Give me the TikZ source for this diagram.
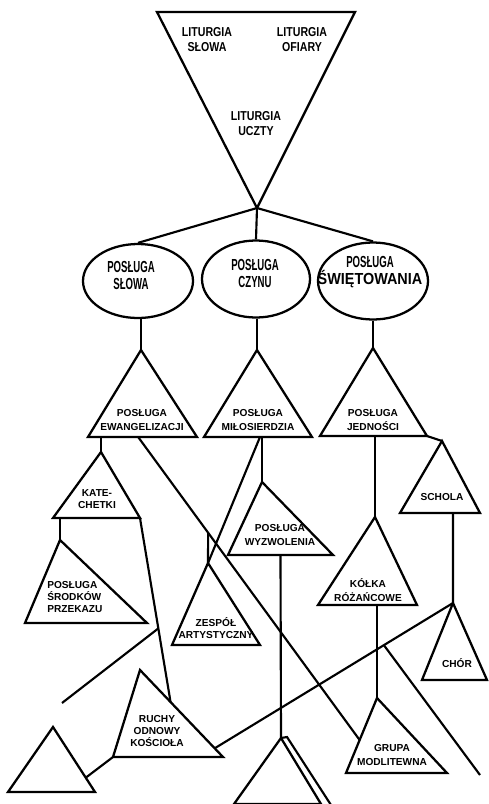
\documentclass[tikz,border=0pt]{standalone}
\usepackage{fontspec}
\setmainfont{Liberation Sans}
\newfontfamily\ftop{Liberation Sans Bold}[FakeStretch=0.82]
\newfontfamily\fell{Liberation Sans Bold}[FakeStretch=0.6]
\newfontfamily\fellw{Liberation Sans Bold}[FakeStretch=0.9]
\newfontfamily\fsm{Liberation Sans Bold}
\usetikzlibrary{calc,shapes.geometric}
\newcommand\mytri[6]{%
  \coordinate (#1A) at (#2,#3);
  \coordinate (#1L) at (#4,#6);
  \coordinate (#1R) at (#5,#6);
  \draw[tri] (#1A) -- (#1R) -- (#1L) -- cycle;}
\begin{document}
\begin{tikzpicture}[x=0.75pt,y=-0.75pt,
  tri/.style={line width=1.7pt, line join=miter},
  lnk/.style={line width=1.6pt},
  oval/.style={draw, ellipse, line width=1.7pt, inner sep=0pt},
  lbltop/.style={align=center, inner sep=0pt, font=\fontsize{9.7}{11.25}\selectfont\ftop},
  lblell/.style={align=center, inner sep=0pt, font=\fontsize{12}{12.75}\selectfont\fell},
  lblsm/.style={align=center, inner sep=0pt, font=\fontsize{7.6}{10.3}\selectfont\fsm},
  lbltight/.style={align=center, inner sep=0pt, font=\fontsize{7.6}{8.8}\selectfont\fsm}]
\useasboundingbox (0,0) rectangle (489,804);

% top inverted triangle
\coordinate (topA) at (257,208);
\coordinate (topL) at (157,12);
\coordinate (topR) at (355,12);
\draw[tri] (topA) -- (topR) -- (topL) -- cycle;
\node[lbltop] (top1) at (207,39.5) {LITURGIA\\SŁOWA};
\node[lbltop] (top2) at (302,39.5) {LITURGIA\\OFIARY};
\node[lbltop] (top3) at (256,123.5) {LITURGIA\\UCZTY};

% ellipses
\node[oval, minimum width=82.5pt, minimum height=55.5pt] (e1) at (138,281) {};
\node[oval, minimum width=81pt, minimum height=57.75pt] (e2) at (256,279) {};
\node[oval, minimum width=82.5pt, minimum height=57.75pt] (e3) at (373,281) {};
\node[lblell] (e1t) at (131,275.5) {POSŁUGA\\SŁOWA};
\node[lblell] (e2t) at (255,273) {POSŁUGA\\CZYNU};
\node[lblell] (e3t) at (370,272.5) {POSŁUGA\\{\fellw ŚWIĘTOWANIA}};

% triangles
\mytri{ew}{141}{350}{88}{197}{437}
\mytri{mi}{257}{350}{204}{312}{437}
\mytri{je}{373}{348}{320}{427}{436}
\mytri{kat}{101}{452}{53}{140}{518}
\mytri{sr}{60}{540}{25}{147}{623}
\mytri{wy}{262}{482}{228}{333}{555}
\mytri{ze}{208}{563}{172}{260}{645}
\mytri{ko}{375}{517}{318}{417}{605}
\mytri{sc}{442}{441}{400}{480}{513}
\mytri{ch}{453}{603}{422}{487}{680}
\mytri{gr}{377}{698}{346}{447}{773}
\mytri{ru}{140}{670}{113}{223}{757}
\mytri{bl}{53}{727}{8}{95}{792}
% bottom cut-off triangle with double right edge
\coordinate (botA) at (281,738);
\coordinate (botL) at (234,804);
\coordinate (botR) at (321,804);
\coordinate (botO1) at (287,737);
\coordinate (botO2) at (331,805);
\draw[tri] (botA) -- (botR) -- (botL) -- cycle;
\draw[lnk] (botA) -- (botO1) -- (botO2);

% labels in triangles
\node[lblsm] (ewT) at (142,420) {POSŁUGA\\EWANGELIZACJI};
\node[lblsm] (miT) at (258,420) {POSŁUGA\\MIŁOSIERDZIA};
\node[lblsm] (jeT) at (373,420) {POSŁUGA\\JEDNOŚCI};
\node[lblsm, font=\fontsize{7.6}{9.2}\selectfont\fsm] (katT) at (97,499) {KATE-\\CHETKI};
\node[lbltight, align=left, anchor=west] (srT) at (47,597) {POSŁUGA\\ŚRODKÓW\\PRZEKAZU};
\node[lblsm] (wyT) at (280,535) {POSŁUGA\\WYZWOLENIA};
\node[lbltight] (zeT) at (216,628) {ZESPÓŁ\\ARTYSTYCZNY};
\node[lblsm] (koT) at (368,590) {KÓŁKA\\RÓŻAŃCOWE};
\node[lblsm] (scT) at (442,497) {SCHOLA};
\node[lblsm] (chT) at (457,663) {CHÓR};
\node[lblsm] (grT) at (392,755) {GRUPA\\MODLITEWNA};
\node[lbltight] (ruT) at (157,731) {RUCHY\\ODNOWY\\KOŚCIOŁA};

% connectors
\draw[lnk] (topA) -- (e1.north);
\draw[lnk] (topA) -- (e2.north);
\draw[lnk] (topA) -- (e3.north);
\draw[lnk] (ewA |- e1.south) -- (ewA);
\draw[lnk] (miA |- e2.south) -- (miA);
\draw[lnk] (jeA |- e3.south) -- (jeA);

\draw[lnk] (katA |- ewL) -- (katA);
\coordinate (ewD) at ($(ewL)!0.46!(ewR)$);
\coordinate (grE) at ($(grA)!0.56!(grL)$);
\draw[lnk] (ewD) -- (grE);
\coordinate (zeV) at ($(ewD)!0.316!(grE)$);
\draw[lnk] (zeV) -- (zeA);

\coordinate (miD) at (260,437);
\draw[lnk] (miD) -- (zeA);
\draw[lnk] (wyA |- miL) -- (wyA);

\coordinate (wyB) at ($(wyL)!0.5!(wyR)$);
\draw[lnk] (wyB) -- (botA);

\draw[lnk] (koA |- jeL) -- (koA);
\draw[lnk] (jeR) -- (scA);
\coordinate (scB) at ($(scL)!0.6625!(scR)$);
\draw[lnk] (scB) -- (chA);

\coordinate (ruE) at ($(ruA)!0.9!(ruR)$);
\draw[lnk] (chA) -- (ruE);
\draw[lnk] (grA |- koL) -- (grA);
\coordinate (xS) at ($(chA)!0.29!(ruE)$);
\coordinate (xE) at (480,775);
\draw[lnk] (xS) -- (xE);

\draw[lnk] (srA |- katL) -- (srA);
\coordinate (ruE2) at ($(ruA)!0.368!(ruR)$);
\draw[lnk] (katR) -- (ruE2);
\coordinate (yS) at ($(katR)!0.6!(ruE2)$);
\coordinate (yE) at (62,703);
\draw[lnk] (yS) -- (yE);
\coordinate (blE) at ($(blA)!0.78!(blR)$);
\draw[lnk] (blE) -- (ruL);
\end{tikzpicture}
\end{document}
